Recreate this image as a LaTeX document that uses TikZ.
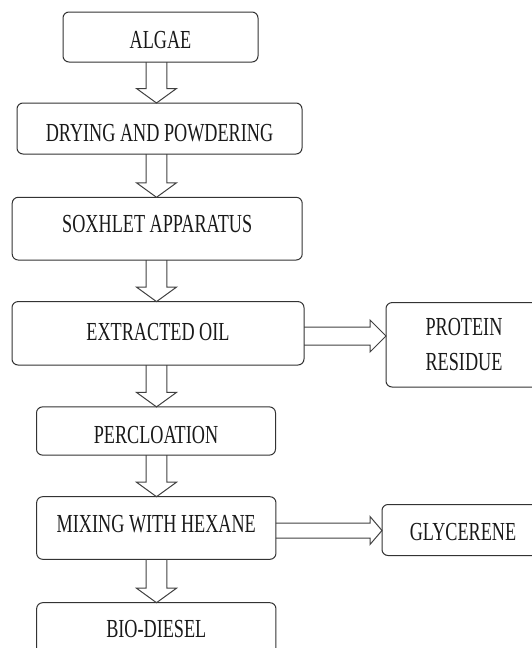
\documentclass[tikz,border=0pt]{standalone}
\usepackage{fontspec}
\setmainfont{Liberation Serif}[FakeStretch=0.70]
\usetikzlibrary{calc}
\tikzset{
  box/.style={draw=black!80, line width=1pt, rounded corners=6pt, outer sep=0pt,
    inner sep=0pt, align=center, text=black!90, font=\fontsize{26}{35}\selectfont},
  tshift/.style 2 args={text height=#1pt, text depth=#2pt},
  barrow/.style={draw=black!75, line width=1pt, line join=miter}
}
\newcommand\varr[2]{%
  \draw[barrow] let \p1=(col|-#1.south), \p2=(col|-#2.north) in
    (\x1-10.3pt,\y1) -- (\x1-10.3pt,\y2+14.5pt) -- (\x1-20pt,\y2+14.5pt) -- (\x1,\y2)
    -- (\x1+20pt,\y2+14.5pt) -- (\x1+10.3pt,\y2+14.5pt) -- (\x1+10.3pt,\y1);}
\newcommand\harr[6]{%
  \draw[barrow] let \p1=($(#1.east)+(0,#3)$), \p2=(#2.west) in
    (\x1,\y1+#4pt) -- (\x2-#6pt,\y1+#4pt) -- (\x2-#6pt,\y1+#5pt) -- (\x2,\y1)
    -- (\x2-#6pt,\y1-#5pt) -- (\x2-#6pt,\y1-#4pt) -- (\x1,\y1-#4pt);}
\begin{document}
\begin{tikzpicture}[x=1pt,y=-1pt]
\useasboundingbox (0,0) rectangle (532,648);
\clip (0,0) rectangle (532,648);
\coordinate (col) at (156.5,0);
\node[box, tshift={23}{0}, minimum width=195, minimum height=50] (algae) at (160.5,37) {ALGAE};
\node[box, tshift={26.6}{0}, minimum width=285, minimum height=51] (dry) at (159.5,128.5) {DRYING AND POWDERING};
\node[box, tshift={17}{9.3}, minimum width=290, minimum height=62.7] (sox) at (157.2,228.65) {SOXHLET APPARATUS};
\node[box, tshift={17}{3.6}, minimum width=292, minimum height=63.4] (ext) at (158,333.3) {EXTRACTED OIL};
\node[box, minimum width=156, minimum height=84.4] (prot) at (464,344.8) {PROTEIN\\RESIDUE};
\node[box, tshift={25}{0}, minimum width=239, minimum height=48.2] (perc) at (156,431) {PERCLOATION};
\node[box, tshift={17}{8}, minimum width=239.3, minimum height=62.6] (mix) at (156.3,528) {MIXING WITH HEXANE};
\node[box, tshift={20.2}{0}, minimum width=162, minimum height=51] (gly) at (463,530) {GLYCERENE};
\node[box, tshift={17}{8}, minimum width=239.3, minimum height=61.4] (bio) at (156.3,633.4) {BIO-DIESEL};
\varr{algae}{dry}
\varr{dry}{sox}
\varr{sox}{ext}
\varr{ext}{perc}
\varr{perc}{mix}
\varr{mix}{bio}
\harr{ext}{prot}{2.7}{9}{16}{16}
\harr{mix}{gly}{2.5}{7.5}{14}{12}
\end{tikzpicture}
\end{document}
